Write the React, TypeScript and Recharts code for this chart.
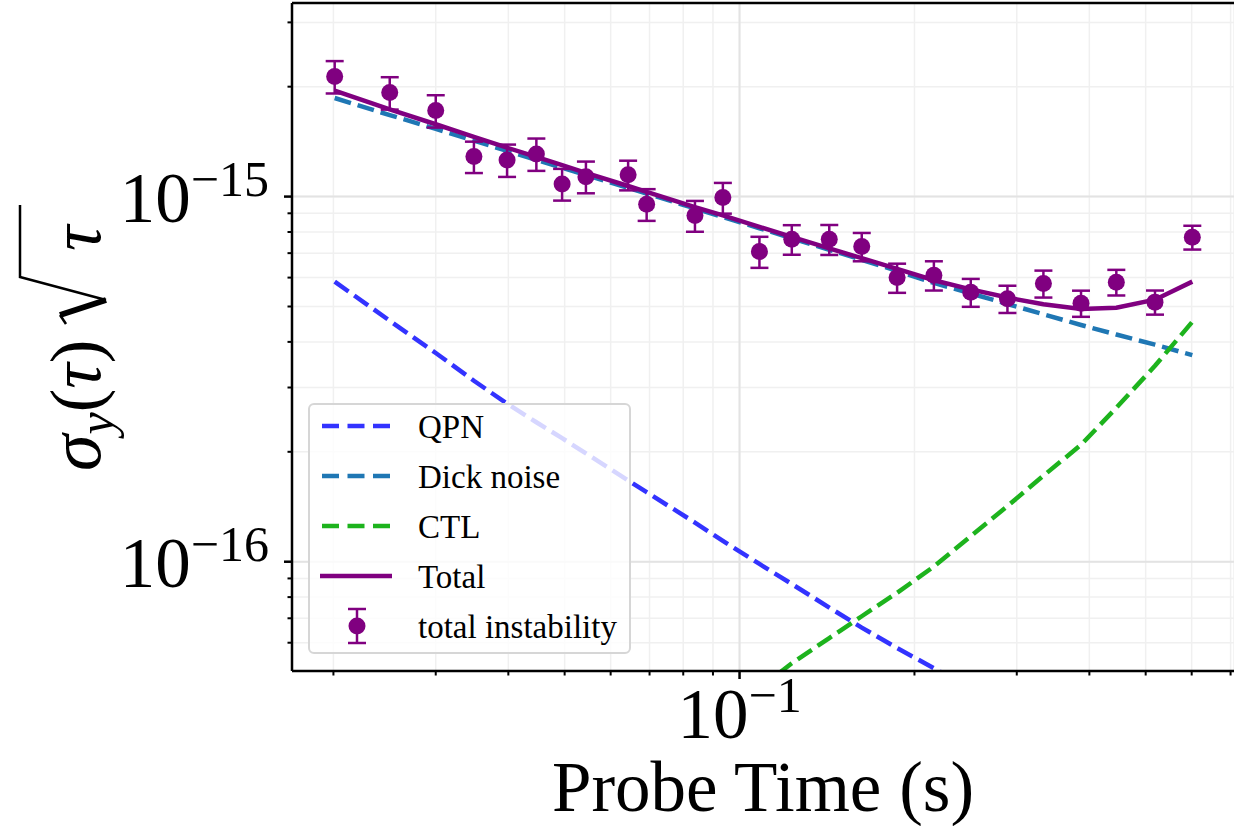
import {
  ComposedChart,
  Line,
  XAxis,
  YAxis,
  CartesianGrid,
  ReferenceLine,
  ErrorBar,
  Legend,
} from "recharts";

const SERIF = "'Liberation Serif', 'Times New Roman', serif";

// probe times (s)
const probeTime = [
  0.0201, 0.025, 0.03, 0.0349, 0.0398, 0.0447, 0.0495, 0.0544, 0.0643, 0.0692, 0.0838, 0.0936,
  0.1082, 0.123, 0.1427, 0.1623, 0.1867, 0.216, 0.25, 0.2891, 0.3334, 0.387, 0.4451, 0.5188, 0.6015,
];

// measured instability and its error bars
const measured = [
  2.133e-15, 1.927e-15, 1.72e-15, 1.287e-15, 1.26e-15, 1.309e-15, 1.083e-15, 1.134e-15, 1.147e-15,
  0.953e-15, 0.887e-15, 0.994e-15, 0.707e-15, 0.764e-15, 0.764e-15, 0.73e-15, 0.6e-15, 0.609e-15,
  0.547e-15, 0.525e-15, 0.578e-15, 0.5105e-15, 0.583e-15, 0.514e-15, 0.774e-15,
];
const measuredErr = [
  0.217e-15, 0.196e-15, 0.175e-15, 0.127e-15, 0.128e-15, 0.133e-15, 0.108e-15, 0.113e-15, 0.107e-15,
  0.095e-15, 0.086e-15, 0.096e-15, 0.069e-15, 0.071e-15, 0.072e-15, 0.065e-15, 0.055e-15, 0.056e-15,
  0.048e-15, 0.045e-15, 0.049e-15, 0.042e-15, 0.047e-15, 0.039e-15, 0.058e-15,
];

// model curves
const qpn = [
  5.85e-16, 4.57e-16, 3.73e-16, 3.13e-16, 2.71e-16, 2.41e-16, 2.18e-16, 1.98e-16, 1.67e-16, 1.55e-16,
  1.28e-16, 1.14e-16, 0.986e-16, 0.869e-16, 0.749e-16, 0.66e-16, 0.58e-16, 0.511e-16, 0.448e-16,
  null, null, null, null, null, null,
];
const dick = [
  1.862e-15, 1.672e-15, 1.533e-15, 1.423e-15, 1.334e-15, 1.261e-15, 1.199e-15, 1.145e-15, 1.056e-15,
  1.019e-15, 0.928e-15, 0.879e-15, 0.819e-15, 0.769e-15, 0.715e-15, 0.671e-15, 0.626e-15, 0.58e-15,
  0.543e-15, 0.508e-15, 0.476e-15, 0.445e-15, 0.419e-15, 0.393e-15, 0.368e-15,
];
const ctl = [
  null, null, null, null, null, null, null, null, null, null, null, null,
  0.45e-16, 0.527e-16, 0.618e-16, 0.709e-16, 0.822e-16, 0.97e-16, 1.175e-16, 1.42e-16, 1.72e-16,
  2.09e-16, 2.64e-16, 3.44e-16, 4.54e-16,
];
const total = [
  1.952e-15, 1.733e-15, 1.578e-15, 1.457e-15, 1.361e-15, 1.284e-15, 1.219e-15, 1.162e-15, 1.069e-15,
  1.03e-15, 0.936e-15, 0.888e-15, 0.826e-15, 0.776e-15, 0.721e-15, 0.678e-15, 0.634e-15, 0.59e-15,
  0.557e-15, 0.529e-15, 0.507e-15, 0.492e-15, 0.496e-15, 0.522e-15, 0.585e-15,
];

const xTicks = [0.02, 0.03, 0.04, 0.05, 0.06, 0.07, 0.08, 0.09, 0.1, 0.2, 0.3, 0.4, 0.5, 0.6, 0.7];
const yTicks = [
  6e-17, 7e-17, 8e-17, 9e-17, 1e-16, 2e-16, 3e-16, 4e-16, 5e-16, 6e-16, 7e-16, 8e-16, 9e-16, 1e-15,
  2e-15, 3e-15,
];

const X_MIN = 0.016972;
const X_MAX = 0.70955;
const Y_MIN = 5.02e-17;
const Y_MAX = 3.39e-15;

const rows = probeTime.map((x, i) => ({
  x,
  qpn: qpn[i],
  dick: dick[i],
  ctl: ctl[i],
  total: total[i],
  measured: measured[i],
  err: measuredErr[i],
}));

const isMajor = (v: number) => Math.abs(Math.log10(v) - Math.round(Math.log10(v))) < 1e-6;

const PowerLabel = ({ exp, x, y, anchor }: { exp: number; x: number; y: number; anchor: string }) => (
  <text x={x} y={y} textAnchor={anchor} fontFamily={SERIF} fontSize={71} fill="#000">
    <tspan>10</tspan>
    <tspan dy={-26} fontSize={50}>
      {"\u2212" + Math.abs(exp)}
    </tspan>
  </text>
);

const XTick = (props: any) => {
  const { x, y, payload } = props;
  const v = payload.value;
  const major = isMajor(v);
  return (
    <g>
      <line x1={x} x2={x} y1={y} y2={y + (major ? 8 : 4.5)} stroke="#000" strokeWidth={major ? 2.5 : 2} />
      {major && <PowerLabel exp={Math.round(Math.log10(v))} x={x} y={y + 67} anchor="middle" />}
    </g>
  );
};

const YTick = (props: any) => {
  const { x, y, payload } = props;
  const v = payload.value;
  const major = isMajor(v);
  return (
    <g>
      <line x1={x - (major ? 8 : 4.5)} x2={x} y1={y} y2={y} stroke="#000" strokeWidth={major ? 2.5 : 2} />
      {major && <PowerLabel exp={Math.round(Math.log10(v))} x={x - 23} y={y + 25} anchor="end" />}
    </g>
  );
};

const XLabel = (props: any) => {
  const vb = props.viewBox;
  return (
    <text x={vb.x + vb.width / 2} y={vb.y + 140} textAnchor="middle" fontFamily={SERIF} fontSize={71} fill="#000">
      Probe Time (s)
    </text>
  );
};

const YLabel = (props: any) => {
  const vb = props.viewBox;
  const cx = vb.x + 100;
  const cy = vb.y + vb.height / 2;
  return (
    <g transform={`translate(${cx},${cy}) rotate(-90)`} fill="#000" fontFamily={SERIF}>
      <text x={-134} y={0} fontSize={74}>
        <tspan fontStyle="italic">σ</tspan>
        <tspan fontStyle="italic" fontSize={50} dy={13}>
          y
        </tspan>
        <tspan dy={-13} fontSize={71}>(</tspan>
        <tspan fontStyle="italic" fontSize={71}>τ</tspan>
        <tspan fontSize={71}>)</tspan>
      </text>
      <path d="M13,-34 L22,-40" fill="none" stroke="#000" strokeWidth={2.5} />
      <path d="M22,-40 L37,6" fill="none" stroke="#000" strokeWidth={6} />
      <path d="M37,6 L60,-80 L132,-80" fill="none" stroke="#000" strokeWidth={2.5} />
      <text x={86} y={0} fontSize={71} fontStyle="italic">
        τ
      </text>
    </g>
  );
};

const legendRows = [
  { label: "QPN", color: "#3333ff", kind: "dash" },
  { label: "Dick noise", color: "#1f77b4", kind: "dash" },
  { label: "CTL", color: "#1db31d", kind: "dash" },
  { label: "Total", color: "#800080", kind: "solid" },
  { label: "total instability", color: "#800080", kind: "err" },
];

const LegendBox = () => (
  <div
    style={{
      width: 323,
      height: 251,
      boxSizing: "border-box",
      border: "2px solid #d6d6d6",
      borderRadius: 6,
      background: "rgba(255,255,255,0.8)",
    }}
  >
    <svg width={319} height={247}>
      {legendRows.map((r, i) => {
        const cy = 21 + i * 50;
        return (
          <g key={r.label}>
            {r.kind === "dash" && (
              <line x1={12} x2={81} y1={cy} y2={cy} stroke={r.color} strokeWidth={4.5} strokeDasharray="17 8.5" />
            )}
            {r.kind === "solid" && <line x1={10} x2={82} y1={cy} y2={cy} stroke={r.color} strokeWidth={4.5} />}
            {r.kind === "err" && (
              <g stroke={r.color} strokeWidth={2.5}>
                <line x1={47} x2={47} y1={cy - 17} y2={cy + 17} />
                <line x1={38} x2={56} y1={cy - 17} y2={cy - 17} />
                <line x1={38} x2={56} y1={cy + 17} y2={cy + 17} />
                <circle cx={47} cy={cy} r={8.5} fill={r.color} stroke="none" />
              </g>
            )}
            <text x={108} y={cy + 12} fontFamily={SERIF} fontSize={33} fill="#000">
              {r.label}
            </text>
          </g>
        );
      })}
    </svg>
  </div>
);

const renderDot = (p: any) =>
  p.cy == null ? <g key={p.index} /> : <circle key={p.index} cx={p.cx} cy={p.cy} r={8.5} fill="#800080" />;

export default function App() {
  return (
    <div style={{ position: "absolute", left: 0, top: 0, width: 1234, height: 826, overflow: "hidden", background: "#fff" }}>
      <ComposedChart width={1240} height={826} data={rows} margin={{ top: 3, right: 6, bottom: 0, left: 0 }}>
        <CartesianGrid stroke="#f0f0f0" strokeWidth={1.5} />
        <CartesianGrid stroke="#e3e3e3" strokeWidth={2} horizontalValues={[1e-16, 1e-15]} verticalValues={[0.1]} />
        <XAxis
          dataKey="x"
          type="number"
          scale="log"
          domain={[X_MIN, X_MAX]}
          allowDataOverflow
          ticks={xTicks}
          interval={0}
          tick={XTick}
          tickLine={false}
          tickSize={0}
          tickMargin={0}
          height={155}
          axisLine={{ stroke: "#000", strokeWidth: 2.5 }}
          label={<XLabel />}
        />
        <YAxis
          type="number"
          scale="log"
          domain={[Y_MIN, Y_MAX]}
          allowDataOverflow
          ticks={yTicks}
          interval={0}
          tick={YTick}
          tickLine={false}
          tickSize={0}
          tickMargin={0}
          width={292}
          axisLine={{ stroke: "#000", strokeWidth: 2.5 }}
          label={<YLabel />}
        />
        <ReferenceLine y={Y_MAX} stroke="#000" strokeWidth={2.5} />
        <Line dataKey="qpn" stroke="#3333ff" strokeWidth={4.5} strokeDasharray="17 7" dot={false} activeDot={false} isAnimationActive={false} />
        <Line dataKey="dick" stroke="#1f77b4" strokeWidth={4.5} strokeDasharray="17 7" dot={false} activeDot={false} isAnimationActive={false} />
        <Line dataKey="ctl" stroke="#1db31d" strokeWidth={4.5} strokeDasharray="17 7" dot={false} activeDot={false} isAnimationActive={false} />
        <Line dataKey="total" stroke="#800080" strokeWidth={4.5} dot={false} activeDot={false} isAnimationActive={false} />
        <Line dataKey="measured" stroke="none" dot={renderDot} activeDot={false} isAnimationActive={false}>
          <ErrorBar dataKey="err" width={9} strokeWidth={2.5} stroke="#800080" direction="y" />
        </Line>
        <Legend
          content={<LegendBox />}
          layout="vertical"
          align="center"
          verticalAlign="middle"
          wrapperStyle={{ left: 308, top: 403, width: 323, height: 251 }}
        />
      </ComposedChart>
    </div>
  );
}
